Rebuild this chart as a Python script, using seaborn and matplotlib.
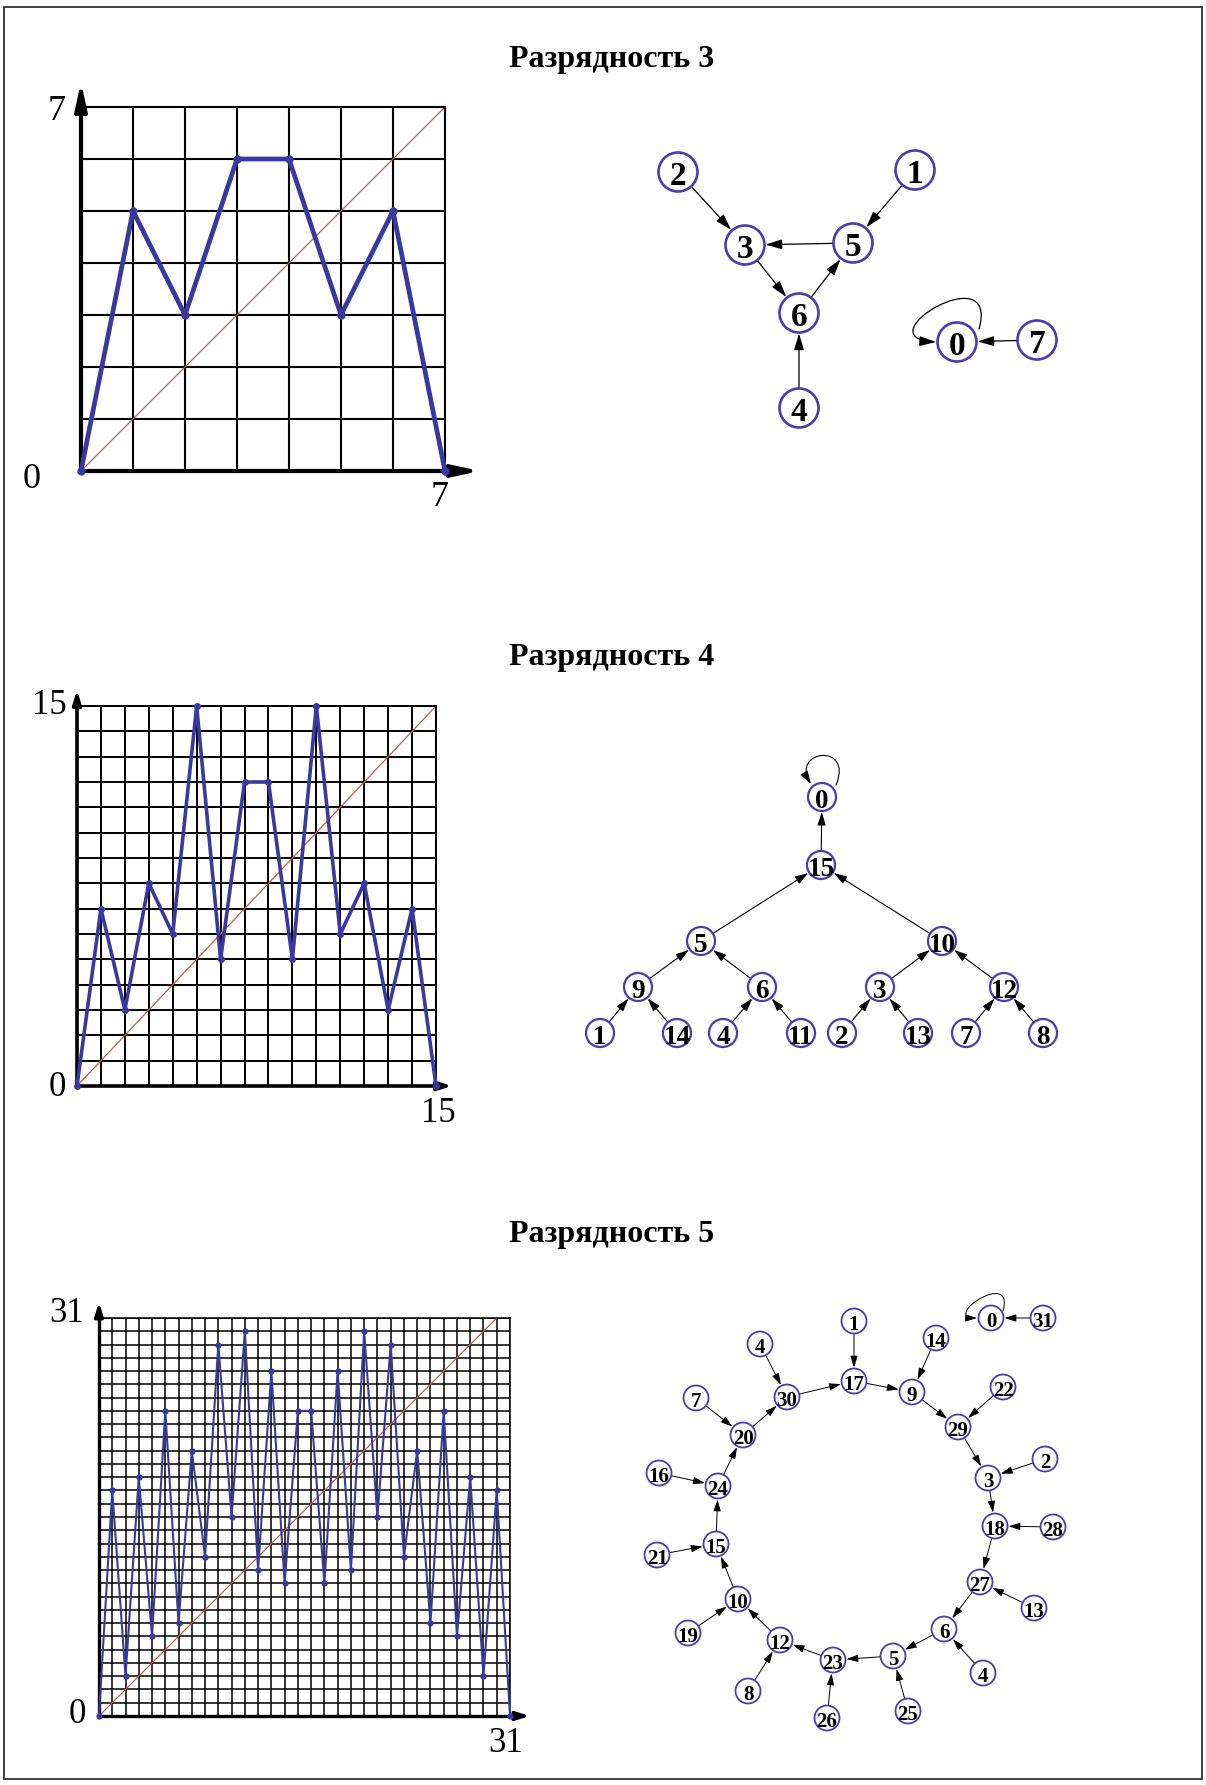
import numpy as np
import matplotlib
matplotlib.use("Agg")
import matplotlib.pyplot as plt
import seaborn as sns
from matplotlib.patches import Circle, FancyArrowPatch, Rectangle
from matplotlib.path import Path

sns.set_style("white")
plt.rcParams['font.family'] = ['Liberation Serif', 'DejaVu Serif']
plt.rcParams['text.color'] = 'black'

W, H, DPI = 1206, 1785, 100

# ---------------- map values f(x) ----------------
x3 = list(range(8))
y3 = [0, 5, 3, 6, 6, 3, 5, 0]

x4 = list(range(16))
y4 = [0, 7, 3, 8, 6, 15, 5, 12, 12, 5, 15, 6, 8, 3, 7, 0]

x5 = list(range(32))
y5 = [0, 17, 3, 18, 6, 23, 7, 20, 12, 28, 15, 29, 11, 26, 10, 23,
      23, 10, 26, 11, 29, 15, 28, 12, 20, 7, 23, 6, 18, 3, 17, 0]

titles = ["Разрядность 3", "Разрядность 4", "Разрядность 5"]
corner_labels3 = ["0", "7", "7"]
corner_labels4 = ["0", "15", "15"]
corner_labels5 = ["0", "31", "31"]

# ---------------- transition graphs ----------------
g3_nodes = {'2': (678, 172), '1': (915, 170), '3': (745, 245), '5': (853, 243),
            '6': (799, 313), '4': (799, 408), '0': (957, 342), '7': (1037, 340)}
g3_edges = [('2', '3'), ('1', '5'), ('5', '3'), ('3', '6'), ('6', '5'),
            ('4', '6'), ('7', '0')]

g4_nodes = {'0': (822, 797), '15': (821, 865), '5': (701, 941), '10': (942, 941),
            '9': (638, 987), '6': (762, 987), '3': (880, 987), '12': (1004, 987),
            '1': (600, 1033), '14': (677, 1033), '4': (723, 1033), '11': (801, 1033),
            '2': (842, 1033), '13': (918, 1033), '7': (966, 1033), '8': (1043, 1033)}
g4_edges = [('15', '0'), ('5', '15'), ('10', '15'), ('9', '5'), ('6', '5'),
            ('3', '10'), ('12', '10'), ('1', '9'), ('14', '9'), ('4', '6'),
            ('11', '6'), ('2', '3'), ('13', '3'), ('7', '12'), ('8', '12')]

g5_nodes = {'1': (854, 1321), '4a': (760, 1344), '14': (936, 1338), '0': (991, 1318),
            '31': (1043, 1318), '17': (854, 1381), '30': (787, 1397), '9': (912, 1392),
            '22': (1003, 1387), '7': (696, 1398), '20': (743, 1435), '29': (958, 1427),
            '16': (659, 1473), '24': (718, 1486), '3': (988, 1478), '2': (1045, 1459),
            '18': (995, 1526), '28': (1053, 1527), '15': (716, 1544), '21': (657, 1555),
            '27': (980, 1582), '13': (1034, 1608), '10': (738, 1599), '19': (688, 1633),
            '6': (944, 1629), '12': (780, 1640), '23': (833, 1660), '5': (893, 1656),
            '4b': (983, 1673), '8': (748, 1691), '26': (827, 1718), '25': (908, 1711)}
g5_edges = [('1', '17'), ('4a', '30'), ('30', '17'), ('17', '9'), ('14', '9'),
            ('9', '29'), ('22', '29'), ('29', '3'), ('2', '3'), ('3', '18'),
            ('28', '18'), ('18', '27'), ('13', '27'), ('27', '6'), ('4b', '6'),
            ('6', '5'), ('25', '5'), ('5', '23'), ('26', '23'), ('23', '12'),
            ('8', '12'), ('12', '10'), ('19', '10'), ('10', '15'), ('21', '15'),
            ('15', '24'), ('16', '24'), ('24', '20'), ('7', '20'), ('20', '30'),
            ('31', '0')]

BLUE = "#3a389f"
NODE = "#4a3cb0"
DIAG = "#b8604f"

fig = plt.figure(figsize=(W / DPI, H / DPI), dpi=DPI)


def map_panel(rect, x, y, xmax, ymax, diag_max, labels, offsets, st):
    l, t, r, b = rect
    ax = fig.add_axes([l / W, 1 - b / H, (r - l) / W, (b - t) / H])
    ax.set_xlim(0, xmax)
    ax.set_ylim(0, ymax)
    ax.set_xticks(np.arange(0, xmax + 1))
    ax.set_yticks(np.arange(0, ymax + 1))
    ax.grid(True, color='black', lw=st['grid'])
    ax.tick_params(length=0, labelbottom=False, labelleft=False)
    for s in ['top', 'right']:
        ax.spines[s].set_linewidth(st['grid'])
        ax.spines[s].set_color('black')
    for s in ['left', 'bottom']:
        ax.spines[s].set_linewidth(st['axis'])
        ax.spines[s].set_color('black')
    sns.lineplot(x=[0, diag_max], y=[0, diag_max], color=DIAG, lw=0.9, ax=ax)
    sns.lineplot(x=x, y=y, color=BLUE, lw=st['line'], marker='o',
                 markersize=st['ms'], markeredgewidth=0, ax=ax, clip_on=False,
                 zorder=5)
    # axis arrows
    ax.annotate('', xy=(0, ymax + st['ey']), xytext=(0, ymax - 0.01),
                arrowprops=dict(arrowstyle=f"-|>,head_length={st['hl']},head_width={st['hw']}",
                                lw=st['axis'], color='black', shrinkA=0, shrinkB=0),
                annotation_clip=False)
    ax.annotate('', xy=(xmax + st['ex'], 0), xytext=(xmax - 0.01, 0),
                arrowprops=dict(arrowstyle=f"-|>,head_length={st['hl']},head_width={st['hw']}",
                                lw=st['axis'], color='black', shrinkA=0, shrinkB=0),
                annotation_clip=False)
    anchors = [(0, 0), (0, ymax), (xmax, 0)]
    for txt, anc, off in zip(labels, anchors, offsets):
        ax.annotate(txt, xy=anc, xytext=(off[0] * 0.72, -off[1] * 0.72),
                    textcoords='offset points', ha='center', va='center',
                    fontsize=st['fs'], color='black', annotation_clip=False)
    return ax


map_panel((81, 107, 445, 471), x3, y3, 7, 7, 7, corner_labels3,
          [(-49, 9), (-24, 4), (-5, 26)],
          dict(grid=1.5, axis=3.0, line=3.4, ms=6, ey=0.48, ex=0.67,
               hl=1.6, hw=0.35, fs=26))
map_panel((77, 706, 436, 1086), x4, y4, 15, 15, 15, corner_labels4,
          [(-20, 1), (-28, 0), (2, 27)],
          dict(grid=1.4, axis=2.6, line=2.6, ms=5, ey=0.63, ex=0.67,
               hl=0.8, hw=0.25, fs=25))
map_panel((99, 1318, 510, 1716), x5, y5, 31, 30, 30, corner_labels5,
          [(-22, -2), (-32, -5), (-4, 27)],
          dict(grid=1.1, axis=2.4, line=1.5, ms=4.5, ey=1.2, ex=1.5,
               hl=0.8, hw=0.25, fs=25))

# ---------------- overlay in pixel coordinates ----------------
ov = fig.add_axes([0, 0, 1, 1], zorder=10)
ov.set_xlim(0, W)
ov.set_ylim(H, 0)
ov.axis('off')
ov.patch.set_alpha(0)

ov.add_patch(Rectangle((4, 7), 1198, 1772, fill=False, lw=1.3, edgecolor='#333333'))
for txt, yc in zip(titles, [59, 657, 1234]):
    ov.text(612, yc, txt, ha='center', va='center', fontsize=23,
            fontweight='bold', color='black')


def draw_graph(nodes, edges, r, fs, node_lw, edge_lw, hl, hw, loop_path):
    for u, v in edges:
        pu, pv = np.array(nodes[u], float), np.array(nodes[v], float)
        d = (pv - pu) / np.linalg.norm(pv - pu)
        a = FancyArrowPatch(pu + d * r, pv - d * (r + 1),
                            arrowstyle=f"-|>,head_length={hl},head_width={hw}",
                            mutation_scale=10, lw=edge_lw, color='black',
                            shrinkA=0, shrinkB=0, zorder=2)
        ov.add_patch(a)
    verts = loop_path
    codes = [Path.MOVETO, Path.CURVE4, Path.CURVE4, Path.CURVE4]
    ov.add_patch(FancyArrowPatch(path=Path(verts, codes),
                                 arrowstyle=f"-|>,head_length={hl},head_width={hw}",
                                 mutation_scale=10, lw=edge_lw, color='black', zorder=2))
    for key, (x, y) in nodes.items():
        ov.add_patch(Circle((x, y), r, facecolor='white', edgecolor=NODE,
                            lw=node_lw, zorder=3))
        label = key.rstrip('ab')
        ov.text(x, y + 1, label, ha='center', va='center_baseline', fontsize=fs,
                fontweight='bold', color='black', zorder=4)


draw_graph(g3_nodes, g3_edges, 19.5, 24, 1.9, 0.9, 1.0, 0.3,
           [(979, 329), (1000, 255), (862, 338), (936, 342)])
draw_graph(g4_nodes, g4_edges, 14, 19.5, 1.6, 0.8, 0.8, 0.25,
           [(836, 785), (854, 742), (790, 750), (811, 784)])
draw_graph(g5_nodes, g5_edges, 12.5, 15, 1.3, 0.7, 0.7, 0.22,
           [(1003, 1311), (1015, 1268), (940, 1318), (977, 1318)])

fig.savefig("out.png", dpi=DPI, facecolor='white')
